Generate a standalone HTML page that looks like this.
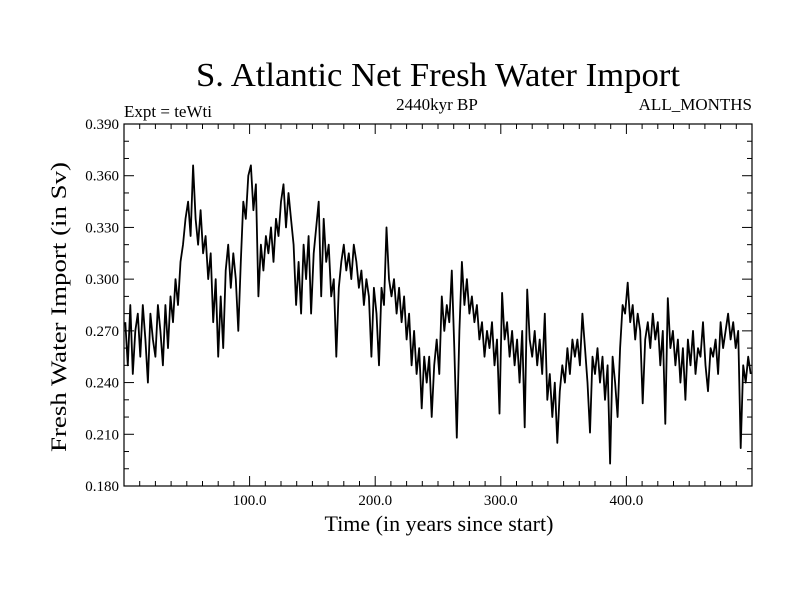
<!DOCTYPE html>
<html><head><meta charset="utf-8"><style>
body{margin:0;background:#fff;}
svg text{font-family:"Liberation Serif",serif;fill:#000;}
</style></head><body>
<svg id="chart" width="800" height="600" xmlns="http://www.w3.org/2000/svg">
<text x="438" y="86" font-size="34" text-anchor="middle" textLength="484" lengthAdjust="spacingAndGlyphs">S. Atlantic Net Fresh Water Import</text>
<text x="124" y="117" font-size="17">Expt = teWti</text>
<text x="437" y="110" font-size="17" text-anchor="middle">2440kyr BP</text>
<text x="752" y="110" font-size="17" text-anchor="end">ALL_MONTHS</text>
<text x="439" y="531" font-size="22" text-anchor="middle">Time (in years since start)</text>
<text x="0" y="0" font-size="22" text-anchor="middle" textLength="290" lengthAdjust="spacingAndGlyphs" transform="translate(66,307) rotate(-90)">Fresh Water Import (in Sv)</text>
<g id="axes"></g>
<path id="line" fill="none" stroke="#000" stroke-width="1.8" stroke-linejoin="round"/>
<rect x="124" y="124" width="628" height="362" fill="none" stroke="#000" stroke-width="1.2"/>
</svg>
<script>
const years0 = 1, yearStep = 2;
const values = [
0.275,0.250,0.285,0.245,0.270,0.280,0.255,0.285,0.265,0.240,
0.280,0.265,0.255,0.285,0.270,0.250,0.285,0.260,0.290,0.275,
0.300,0.285,0.310,0.320,0.335,0.345,0.325,0.366,0.335,0.320,
0.340,0.315,0.325,0.300,0.315,0.275,0.300,0.255,0.290,0.260,
0.305,0.320,0.295,0.315,0.300,0.270,0.310,0.345,0.335,0.360,
0.366,0.340,0.355,0.290,0.320,0.305,0.325,0.315,0.330,0.310,
0.335,0.325,0.345,0.355,0.330,0.350,0.335,0.320,0.285,0.310,
0.280,0.320,0.300,0.325,0.280,0.315,0.330,0.345,0.290,0.335,
0.310,0.320,0.290,0.300,0.255,0.295,0.310,0.320,0.305,0.315,
0.300,0.320,0.310,0.295,0.305,0.285,0.300,0.290,0.255,0.295,
0.280,0.250,0.295,0.285,0.330,0.300,0.290,0.300,0.280,0.295,
0.275,0.290,0.265,0.280,0.250,0.270,0.245,0.260,0.225,0.255,
0.240,0.255,0.220,0.250,0.265,0.245,0.290,0.270,0.285,0.275,
0.305,0.260,0.208,0.270,0.310,0.285,0.300,0.280,0.290,0.275,
0.285,0.265,0.275,0.255,0.270,0.260,0.275,0.250,0.265,0.222,
0.292,0.265,0.275,0.255,0.270,0.250,0.265,0.240,0.270,0.214,
0.294,0.265,0.255,0.270,0.250,0.265,0.245,0.280,0.230,0.245,
0.220,0.240,0.205,0.235,0.250,0.240,0.260,0.245,0.265,0.255,
0.265,0.250,0.280,0.260,0.240,0.211,0.255,0.245,0.260,0.240,
0.255,0.230,0.250,0.193,0.255,0.240,0.220,0.260,0.285,0.280,
0.298,0.275,0.285,0.265,0.280,0.270,0.228,0.265,0.275,0.260,
0.280,0.265,0.275,0.250,0.270,0.216,0.289,0.260,0.270,0.250,
0.265,0.240,0.260,0.230,0.265,0.250,0.270,0.245,0.260,0.255,
0.275,0.250,0.235,0.260,0.255,0.265,0.245,0.275,0.260,0.270,
0.280,0.265,0.275,0.260,0.270,0.202,0.250,0.240,0.255,0.245
];
const xTickValues = [100, 200, 300, 400];
const xTickLabels = ["100.0", "200.0", "300.0", "400.0"];
const yTickValues = [0.18, 0.21, 0.24, 0.27, 0.30, 0.33, 0.36, 0.39];
const yTickLabels = ["0.180", "0.210", "0.240", "0.270", "0.300", "0.330", "0.360", "0.390"];

const X0 = 124, X1 = 752, Y0 = 486, Y1 = 124;
const xMin = 0, xMax = 500, yMin = 0.18, yMax = 0.39;
const xs = v => X0 + (v - xMin) / (xMax - xMin) * (X1 - X0);
const ys = v => Y0 - (v - yMin) / (yMax - yMin) * (Y0 - Y1);
const NS = "http://www.w3.org/2000/svg";
const axes = document.getElementById('axes');
function ln(x1, y1, x2, y2, name) {
  const l = document.createElementNS(NS, 'line');
  l.setAttribute('x1', x1); l.setAttribute('y1', y1); l.setAttribute('x2', x2); l.setAttribute('y2', y2);
  l.setAttribute('stroke', '#000'); l.setAttribute('stroke-width', '1');
  
  
  axes.appendChild(l);
}
function tx(x, y, s, anchor, name) {
  const t = document.createElementNS(NS, 'text');
  t.setAttribute('x', x); t.setAttribute('y', y); t.setAttribute('font-size', '15');
  t.setAttribute('text-anchor', anchor); t.textContent = s;
  
  
  axes.appendChild(t);
}
for (let v = 12.5; v < 500; v += 12.5) {
  const major = Math.abs(v % 100) < 1e-6;
  const len = major ? 10 : 5;
  ln(xs(v), Y0, xs(v), Y0 - len, 'x-tick');
  ln(xs(v), Y1, xs(v), Y1 + len, 'x-tick-top');
}
xTickValues.forEach((v, i) => tx(xs(v), Y0 + 19, xTickLabels[i], 'middle', 'x-tick-label'));
for (let k = 1; k < 21; k++) {
  const v = yMin + k * 0.01;
  const major = k % 3 === 0;
  const len = major ? 10 : 5;
  ln(X0, ys(v), X0 + len, ys(v), 'y-tick');
  ln(X1, ys(v), X1 - len, ys(v), 'y-tick-right');
}
yTickValues.forEach((v, i) => tx(X0 - 5, ys(v) + 5, yTickLabels[i], 'end', 'y-tick-label'));
let d = '';
values.forEach((v, i) => { d += (i ? 'L' : 'M') + xs(years0 + i * yearStep).toFixed(1) + ',' + ys(v).toFixed(1); });
document.getElementById('line').setAttribute('d', d);
</script>
</body></html>
